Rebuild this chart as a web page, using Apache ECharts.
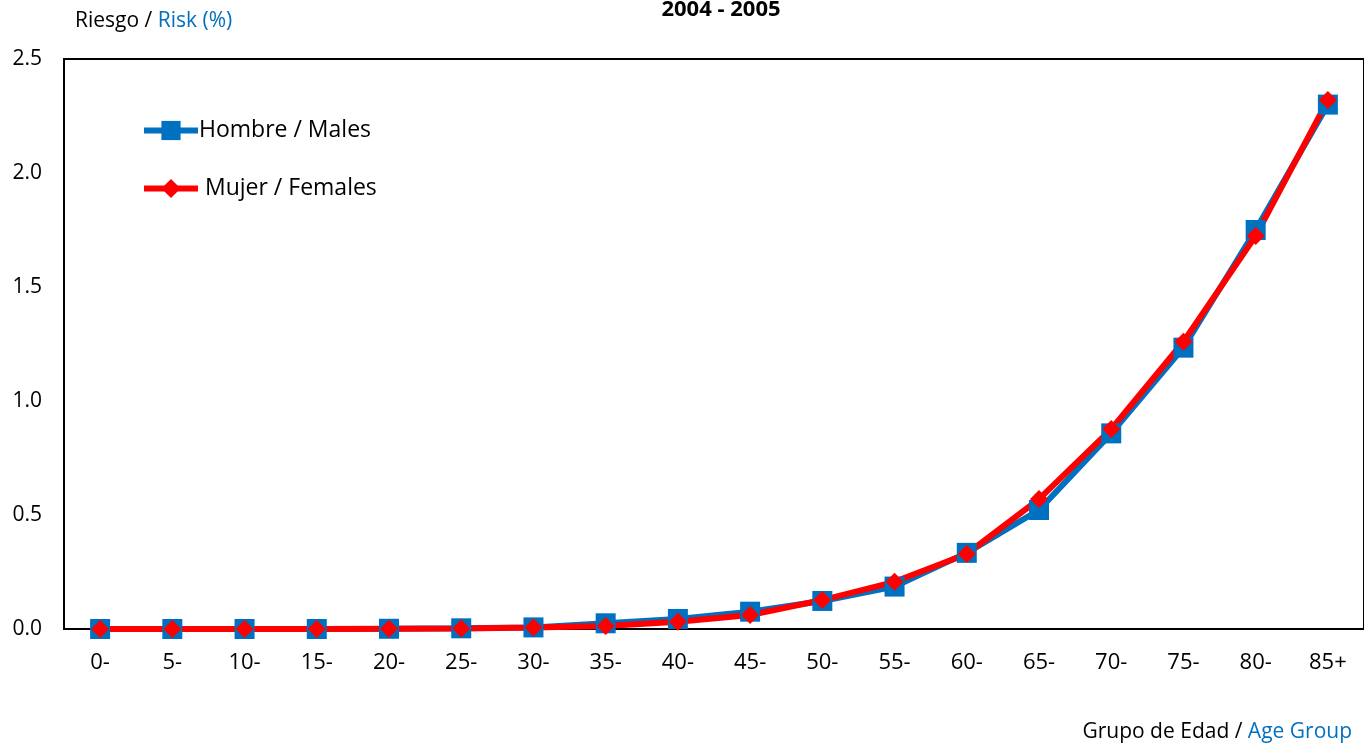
<!DOCTYPE html>
<html>
<head>
<meta charset="utf-8">
<script src="https://cdn.jsdelivr.net/npm/echarts@6/dist/echarts.min.js"></script>
<style>
html,body{margin:0;padding:0;background:#fff;}
#chart{width:1364px;height:744px;}
</style>
</head>
<body>
<div id="chart"></div>
<script>
const categories = ['0-','5-','10-','15-','20-','25-','30-','35-','40-','45-','50-','55-','60-','65-','70-','75-','80-','85+'];
const males   = [0, 0, 0, 0, 0.001, 0.003, 0.007, 0.025, 0.044, 0.076, 0.123, 0.186, 0.334, 0.522, 0.858, 1.234, 1.75, 2.30];
const females = [0, 0, 0, 0, 0.001, 0.002, 0.007, 0.013, 0.032, 0.061, 0.127, 0.207, 0.329, 0.570, 0.877, 1.26, 1.724, 2.32];
const yTicks = [0, 0.5, 1.0, 1.5, 2.0, 2.5];

const FONT = '"Open Sans", Lato, sans-serif';
const chart = echarts.init(document.getElementById('chart'));
chart.setOption({
  animation: false,
  textStyle: {fontFamily: FONT},
  title: {
    text: '2004 - 2005',
    left: 716, top: -6, textAlign: 'center',
    textStyle: {fontSize: 22, fontWeight: 'bold', color: '#000', fontFamily: FONT}
  },
  legend: {
    left: 141, top: 119, orient: 'vertical', padding: 0,
    itemWidth: 54, itemHeight: 24, itemGap: 35,
    lineStyle: {width: 6},
    formatter: name => name.indexOf('Mujer') === 0 ? ' ' + name : name,
    textStyle: {fontSize: 23, color: '#000', fontFamily: FONT, padding: [0,0,0,-4]},
    data: [
      {name: 'Hombre / Males'},
      {name: 'Mujer / Females'}
    ]
  },
  grid: {left: 64, right: -2, top: 59, bottom: 115, show: true, borderColor: '#000', borderWidth: 2},
  xAxis: {
    type: 'category', data: categories, boundaryGap: true,
    axisLine: {lineStyle: {color: '#000', width: 2}},
    axisTick: {show: false},
    axisLabel: {fontSize: 22, color: '#000', margin: 23, fontFamily: FONT}
  },
  yAxis: {
    type: 'value', min: yTicks[0], max: yTicks[yTicks.length-1], interval: 0.5,
    axisLine: {show: true, lineStyle: {color: '#000', width: 2}},
    axisTick: {show: false},
    splitLine: {show: false},
    axisLabel: {fontSize: 21, color: '#000', margin: 22, fontFamily: FONT, formatter: v => v.toFixed(1)}
  },
  graphic: [
    {type: 'text', left: 75, top: 11, style: {
      text: '{a|Riesgo / }{b|Risk (%)}',
      rich: {a: {fontSize: 21, fill: '#000', fontFamily: FONT}, b: {fontSize: 21, fill: '#0070C0', fontFamily: FONT}}
    }},
    {type: 'text', right: 12, top: 722, style: {
      text: '{a|Grupo de Edad / }{b|Age Group}',
      rich: {a: {fontSize: 21, fill: '#000', fontFamily: FONT}, b: {fontSize: 21, fill: '#0070C0', fontFamily: FONT}}
    }}
  ],
  series: [
    {
      name: 'Hombre / Males', type: 'line', data: males,
      symbol: 'rect', symbolSize: 20,
      lineStyle: {color: '#0070C0', width: 6},
      itemStyle: {color: '#0070C0'}
    },
    {
      name: 'Mujer / Females', type: 'line', data: females,
      symbol: 'diamond', symbolSize: 18,
      lineStyle: {color: '#FF0000', width: 6},
      itemStyle: {color: '#FF0000'}
    }
  ]
});
</script>
</body>
</html>
